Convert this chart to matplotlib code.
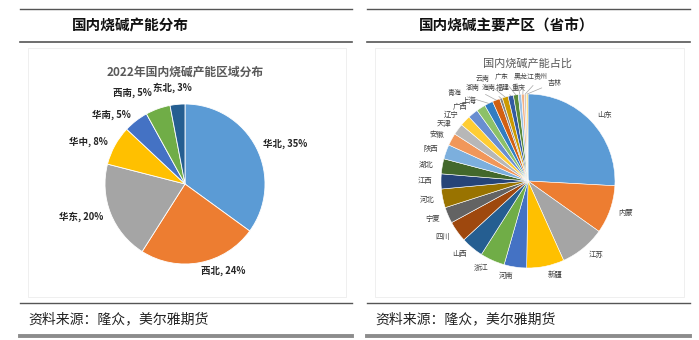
import numpy as np
import matplotlib.pyplot as plt
from matplotlib.patches import Rectangle

plt.rcParams['font.family'] = ['Noto Sans CJK SC', 'DejaVu Sans']

# left pie: regional capacity share (%)
regions = ['华北', '西北', '华东', '华中', '华南', '西南', '东北']
region_share = [35, 24, 20, 8, 5, 5, 3]

# right pie: capacity share by province (%)
provinces = ['山东', '内蒙', '江苏', '新疆', '河南', '浙江', '山西', '四川', '宁夏',
             '河北', '江西', '湖北', '陕西', '安徽', '天津', '辽宁', '广西', '上海',
             '青海', '湖南', '海南', '云南', '福建', '广东', '重庆', '黑龙江', '贵州', '吉林']
province_share = [26, 9, 8.5, 7, 4.2, 4.6, 4.2, 3.9, 3.0,
                  3.5, 2.8, 2.8, 2.7, 2.3, 2.1, 2.0, 1.9, 1.7,
                  1.6, 1.4, 0.5, 1.1, 1.0, 0.9, 0.6, 0.5, 0.4, 0.3]

excel = ['#5B9BD5', '#ED7D31', '#A5A5A5', '#FFC000', '#4472C4', '#70AD47',
         '#255E91', '#9E480E', '#636363', '#997300', '#264478', '#43682B',
         '#7CAFDD', '#F1975A', '#B7B7B7', '#FFCD33', '#698ED0', '#8CC168',
         '#327DC2', '#D26012', '#848484', '#CC9A00', '#335AA1', '#5A8A39',
         '#9DC3E6', '#F4B183', '#C9C9C9', '#FFD966']

# crowded small slices: label text placement (radius units)
n_big = 18
small_pos = [(-0.84, 1.01), (-0.63, 1.07), (-0.45, 1.07), (-0.52, 1.17),
             (-0.29, 1.07), (-0.30, 1.19), (-0.11, 1.07), (-0.05, 1.20),
             (0.15, 1.20), (0.30, 1.13)]

W, H = 699, 340
fig = plt.figure(figsize=(W / 100, H / 100), dpi=100)


def fx(px):
    return px / W


def fy(py):
    return 1 - py / H


def hline(x0, x1, y, lw, color):
    fig.add_artist(plt.Line2D([fx(x0), fx(x1)], [fy(y), fy(y)], lw=lw, color=color,
                              transform=fig.transFigure))


# panel frames
for x0, x1, title in [(20, 352, '国内烧碱产能分布'), (367, 690, '国内烧碱主要产区（省市）')]:
    hline(x0, x1, 9, 1.0, '#555555')
    hline(x0, x1, 42, 1.2, '#555555')
    hline(x0, x1, 303, 1.0, '#555555')
    hline(x0, x1, 336, 2.8, '#8c8c8c')
    fig.text(fx(x0 + 52), fy(25), title, fontsize=10.5, fontweight='bold',
             va='center', ha='left', color='#111111')
    fig.text(fx(x0 + 8), fy(319), '资料来源：隆众，美尔雅期货', fontsize=10,
             va='center', ha='left', color='#222222')

# faint chart borders
for x0, x1 in [(28, 346), (375, 684)]:
    fig.add_artist(Rectangle((fx(x0), fy(297)), fx(x1 - x0), (297 - 48) / H,
                             transform=fig.transFigure, fill=False,
                             ec='#ececec', lw=0.6))

# left pie
cx, cy, r = 185, 184, 80
ax1 = fig.add_axes([fx(cx - r), fy(cy + r), fx(2 * r), 2 * r / H])
_, ltexts = ax1.pie(region_share, colors=excel[:len(regions)], startangle=90,
                    counterclock=False,
                    labels=[f'{n}, {v}%' for n, v in zip(regions, region_share)],
                    labeldistance=1.1, radius=1,
                    wedgeprops=dict(edgecolor='white', linewidth=0.6),
                    textprops=dict(fontsize=6.8, fontweight='bold', color='#262626'))
# spread the two top labels like the original
ltexts[5].set_position((-0.41, 1.14))
ltexts[6].set_position((-0.16, 1.20))
ltexts[6].set_ha('center')
ax1.set_xlim(-1, 1)
ax1.set_ylim(-1, 1)
ax1.set_aspect('equal')
fig.text(fx(185), fy(72), '2022年国内烧碱产能区域分布', fontsize=8.5,
         fontweight='bold', color='#595959', ha='center', va='center')

# right pie
cx, cy, r = 528, 181, 87
ax2 = fig.add_axes([fx(cx - r), fy(cy + r), fx(2 * r), 2 * r / H])
wedges, texts = ax2.pie(province_share, colors=excel[:len(provinces)], startangle=90,
                        counterclock=False,
                        labels=provinces[:n_big] + [''] * (len(provinces) - n_big),
                        labeldistance=1.1, radius=1,
                        wedgeprops=dict(edgecolor='white', linewidth=0.4),
                        textprops=dict(fontsize=5.3, color='#404040'))
for w, name, pos in zip(wedges[n_big:], provinces[n_big:], small_pos):
    ang = np.deg2rad((w.theta1 + w.theta2) / 2)
    ax2.annotate(name, xy=(np.cos(ang), np.sin(ang)), xytext=pos,
                 fontsize=5.0, color='#404040', ha='center', va='center',
                 arrowprops=dict(arrowstyle='-', color='#a6a6a6', lw=0.5,
                                 shrinkA=2, shrinkB=0))
ax2.set_xlim(-1, 1)
ax2.set_ylim(-1, 1)
ax2.set_aspect('equal')
fig.text(fx(528), fy(64), '国内烧碱产能占比', fontsize=8, color='#595959',
         ha='center', va='center')

fig.savefig('out.png', dpi=100)
